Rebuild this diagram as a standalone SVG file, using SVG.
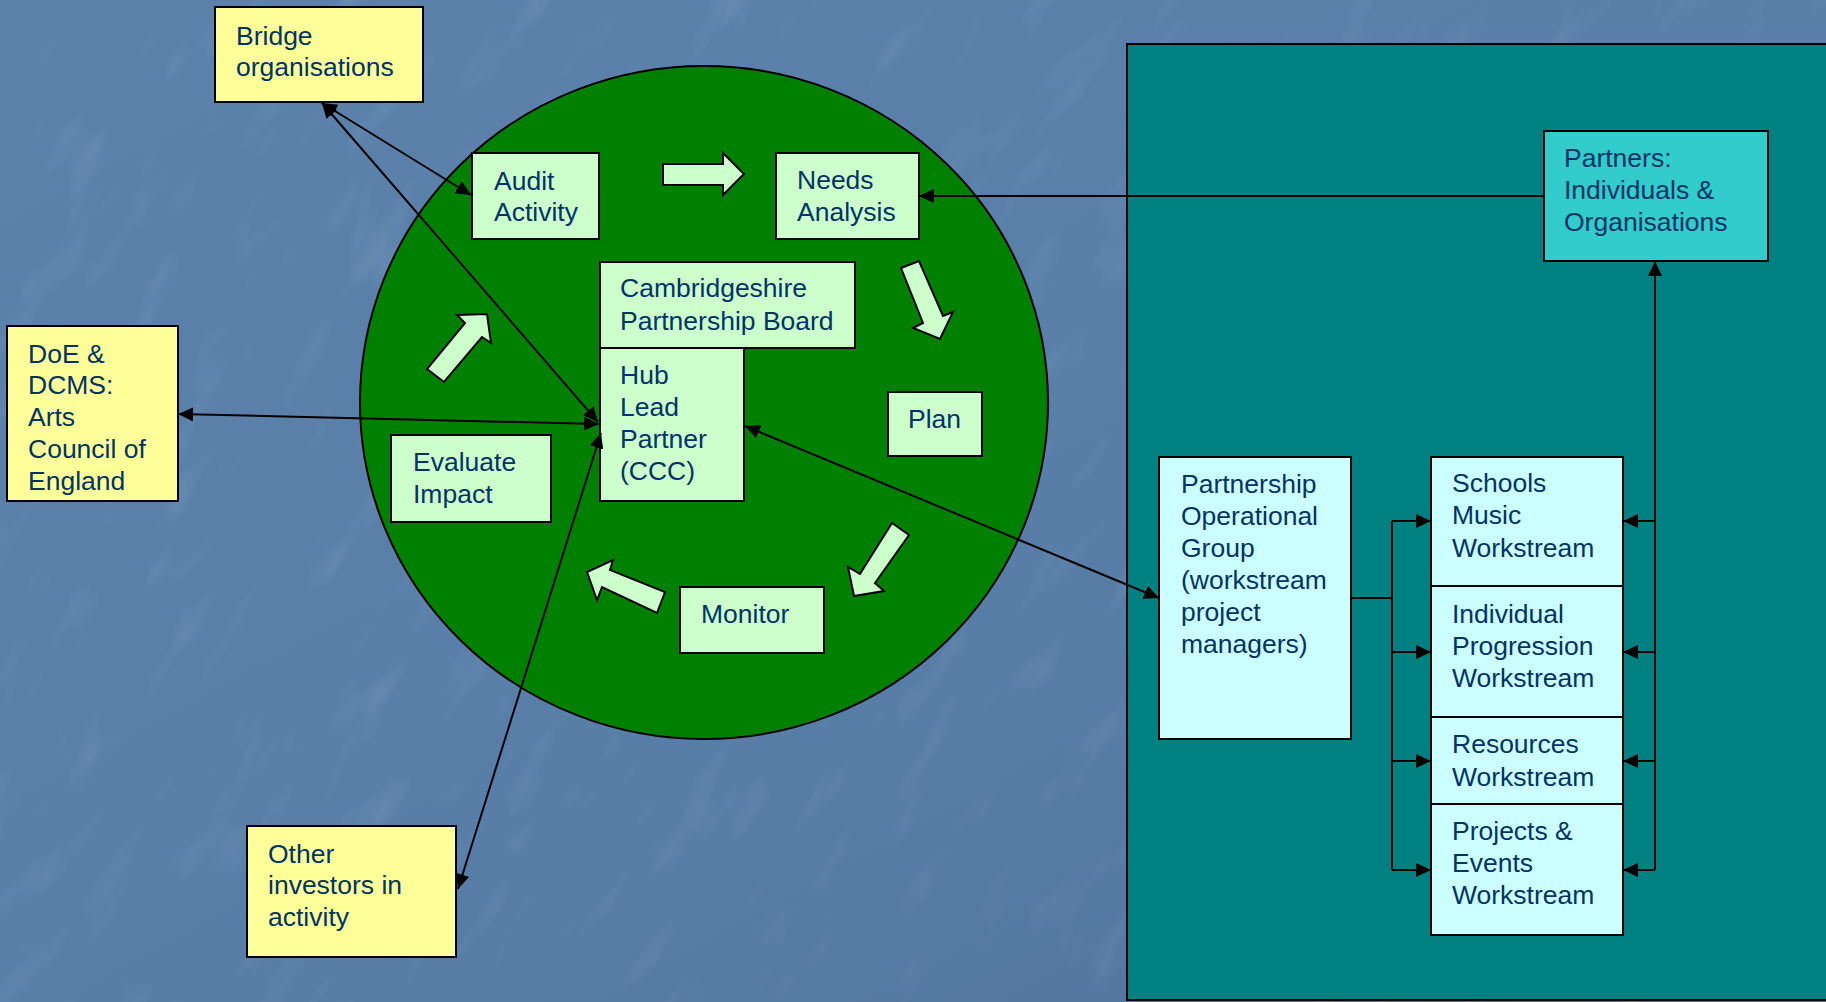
<svg xmlns="http://www.w3.org/2000/svg" width="1826" height="1002" viewBox="0 0 1826 1002">
<defs>
<linearGradient id="bg" x1="0" y1="0" x2="1" y2="1">
<stop offset="0" stop-color="#5c82ac"/>
<stop offset="0.5" stop-color="#597fa9"/>
<stop offset="1" stop-color="#50739d"/>
</linearGradient>
<filter id="tex" x="0" y="0" width="100%" height="100%">
<feTurbulence type="fractalNoise" baseFrequency="0.01 0.03" numOctaves="3" seed="7" result="n"/>
<feColorMatrix type="matrix" values="0 0 0 0 1  0 0 0 0 1  0 0 0 0 1  0 0 0 1.4 -0.8" />
</filter>
<marker id="ah" viewBox="0 0 15 14" markerWidth="15" markerHeight="14" refX="15" refY="7" orient="auto-start-reverse" markerUnits="userSpaceOnUse">
<path d="M0,0 L15,7 L0,14 z" fill="#000"/>
</marker>
<style>
.t{font-family:"Liberation Sans",Arial,sans-serif;font-size:26.5px;fill:#003366}
.box{stroke:#000;stroke-width:2}
.lg{fill:#ccffcc}
.yl{fill:#ffff99}
.cy{fill:#ccffff}
.ba{fill:#ccffcc;stroke:#000;stroke-width:2;stroke-linejoin:miter}
.c{fill:none;stroke:#000;stroke-width:2}
.cb{fill:none;stroke:#000;stroke-width:2;marker-start:url(#ah);marker-end:url(#ah)}
.ce{fill:none;stroke:#000;stroke-width:2;marker-end:url(#ah)}
</style>
</defs>
<rect x="0" y="0" width="1826" height="1002" fill="url(#bg)"/>
<g transform="rotate(-58 913 501)" opacity="0.15">
<rect x="-400" y="-500" width="2626" height="2002" filter="url(#tex)"/>
</g>

<g id="teal-area">
<rect x="1127" y="44" width="710" height="956" fill="#008080" stroke="#000" stroke-width="2"/>
</g>

<g id="cycle-circle">
<ellipse cx="704" cy="402.5" rx="344" ry="336.5" fill="#008000" stroke="#000" stroke-width="2"/>
</g>

<g id="cycle-arrows">
<polygon class="ba" points="663,164 723,164 723,153 744,174 723,195 723,185 663,185"/>
<polygon class="ba" points="901,268 919,261 943,316 953,312 940,339 913,328 923,323"/>
<polygon class="ba" points="892,523 909,535 875,583 884,591 854,596 848,567 860,574"/>
<polygon class="ba" points="665,592 657,613 602,587 597,600 587,572 613,560 610,570"/>
<polygon class="ba" points="427,369 444,382 482,337 491,343 487,314 457,315 465,323"/>
</g>

<g id="bridge">
<rect class="box yl" x="215" y="7" width="208" height="95"/>
<text class="t" x="236" y="45">Bridge</text>
<text class="t" x="236" y="76">organisations</text>
</g>

<g id="doe">
<rect class="box yl" x="7" y="326" width="171" height="175"/>
<text class="t" x="28" y="363">DoE &amp;</text>
<text class="t" x="28" y="394">DCMS:</text>
<text class="t" x="28" y="426">Arts</text>
<text class="t" x="28" y="458">Council of</text>
<text class="t" x="28" y="490">England</text>
</g>

<g id="other-investors">
<rect class="box yl" x="247" y="826" width="209" height="131"/>
<text class="t" x="268" y="863">Other</text>
<text class="t" x="268" y="894">investors in</text>
<text class="t" x="268" y="926">activity</text>
</g>

<g id="audit">
<rect class="box lg" x="472" y="153" width="127" height="86"/>
<text class="t" x="494" y="190">Audit</text>
<text class="t" x="494" y="221">Activity</text>
</g>

<g id="needs">
<rect class="box lg" x="776" y="153" width="143" height="86"/>
<text class="t" x="797" y="189">Needs</text>
<text class="t" x="797" y="221">Analysis</text>
</g>

<g id="board">
<rect class="box lg" x="600" y="262" width="255" height="86"/>
<text class="t" x="620" y="297">Cambridgeshire</text>
<text class="t" x="620" y="330">Partnership Board</text>
</g>

<g id="hub">
<rect class="box lg" x="600" y="348" width="144" height="153"/>
<text class="t" x="620" y="384">Hub</text>
<text class="t" x="620" y="416">Lead</text>
<text class="t" x="620" y="448">Partner</text>
<text class="t" x="620" y="480">(CCC)</text>
</g>

<g id="plan">
<rect class="box lg" x="888" y="392" width="94" height="64"/>
<text class="t" x="908" y="428">Plan</text>
</g>

<g id="monitor">
<rect class="box lg" x="680" y="587" width="144" height="66"/>
<text class="t" x="701" y="623">Monitor</text>
</g>

<g id="evaluate">
<rect class="box lg" x="391" y="435" width="160" height="87"/>
<text class="t" x="413" y="471">Evaluate</text>
<text class="t" x="413" y="503">Impact</text>
</g>

<g id="partners">
<rect class="box" fill="#33cccc" x="1544" y="131" width="224" height="130"/>
<text class="t" x="1564" y="167">Partners:</text>
<text class="t" x="1564" y="199">Individuals &amp;</text>
<text class="t" x="1564" y="231">Organisations</text>
</g>

<g id="pog">
<rect class="box cy" x="1159" y="457" width="192" height="282"/>
<text class="t" x="1181" y="493">Partnership</text>
<text class="t" x="1181" y="525">Operational</text>
<text class="t" x="1181" y="557">Group</text>
<text class="t" x="1181" y="589">(workstream</text>
<text class="t" x="1181" y="621">project</text>
<text class="t" x="1181" y="653">managers)</text>
</g>

<g id="ws-schools">
<rect class="box cy" x="1431" y="457" width="192" height="129"/>
<text class="t" x="1452" y="492">Schools</text>
<text class="t" x="1452" y="524">Music</text>
<text class="t" x="1452" y="557">Workstream</text>
</g>

<g id="ws-individual">
<rect class="box cy" x="1431" y="586" width="192" height="131"/>
<text class="t" x="1452" y="623">Individual</text>
<text class="t" x="1452" y="655">Progression</text>
<text class="t" x="1452" y="687">Workstream</text>
</g>

<g id="ws-resources">
<rect class="box cy" x="1431" y="717" width="192" height="87"/>
<text class="t" x="1452" y="753">Resources</text>
<text class="t" x="1452" y="786">Workstream</text>
</g>

<g id="ws-projects">
<rect class="box cy" x="1431" y="804" width="192" height="131"/>
<text class="t" x="1452" y="840">Projects &amp;</text>
<text class="t" x="1452" y="872">Events</text>
<text class="t" x="1452" y="904">Workstream</text>
</g>

<g id="connectors">
<line class="cb" x1="322" y1="103" x2="471" y2="195"/>
<line class="cb" x1="322" y1="103" x2="598" y2="422"/>
<line class="cb" x1="178" y1="414" x2="599" y2="424"/>
<line class="cb" x1="458" y1="889" x2="601" y2="433"/>
<line class="cb" x1="745" y1="426" x2="1159" y2="598"/>
<line class="ce" x1="1544" y1="196" x2="919" y2="196"/>
<line class="ce" x1="1655" y1="870" x2="1655" y2="261"/>
<line class="ce" x1="1655" y1="521" x2="1623" y2="521"/>
<line class="ce" x1="1655" y1="652" x2="1623" y2="652"/>
<line class="ce" x1="1655" y1="761" x2="1623" y2="761"/>
<line class="ce" x1="1655" y1="870" x2="1623" y2="870"/>
<line class="c" x1="1351" y1="598" x2="1392" y2="598" stroke-width="3"/>
<line class="c" x1="1392" y1="521" x2="1392" y2="870"/>
<line class="ce" x1="1392" y1="521" x2="1431" y2="521"/>
<line class="ce" x1="1392" y1="652" x2="1431" y2="652"/>
<line class="ce" x1="1392" y1="761" x2="1431" y2="761"/>
<line class="ce" x1="1392" y1="870" x2="1431" y2="870"/>
</g>
</svg>
